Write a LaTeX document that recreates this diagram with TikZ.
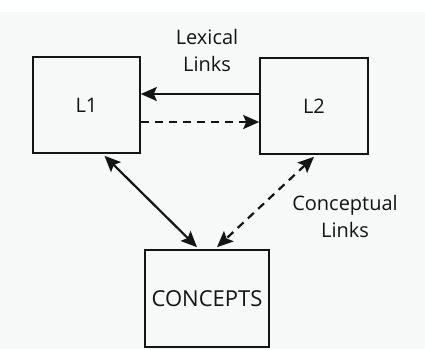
\documentclass[tikz,border=0pt]{standalone}
\usepackage{fontspec}
\setmainfont{Open Sans}
\usetikzlibrary{arrows.meta}
\definecolor{paper}{RGB}{247,248,248}
\definecolor{ink}{RGB}{20,20,20}
\tikzset{
  box/.style={draw=ink, line width=1.6pt, minimum width=#1, inner sep=0pt},
  lbl/.style={font=\fontsize{20}{27}\selectfont, align=center, text=ink},
  big/.style={font=\fontsize{22}{27}\selectfont},
  link/.style={draw=ink, line width=2.2pt, -{Stealth[length=16pt,width=14pt,inset=3pt]}},
  blink/.style={draw=ink, line width=2.2pt, {Stealth[length=16pt,width=14pt,inset=3pt]}-{Stealth[length=16pt,width=14pt,inset=3pt]}},
  dsh/.style={dash pattern=on 8pt off 6pt}
}
\begin{document}
\begin{tikzpicture}[x=1pt,y=-1pt]
  % page
  \fill[paper] (0,0) rectangle (425,349);
  \fill[white] (0,0) rectangle (425,12);
  \useasboundingbox (0,0) rectangle (425,349);

  % the three stores
  \node[box=107pt, minimum height=96pt, lbl] (l1) at (86.5,105) {L1};
  \node[box=108pt, minimum height=96pt, lbl] (l2) at (314,106) {L2};
  \node[box=124pt, minimum height=97pt, lbl, big] (con) at (207,298.5) {CONCEPTS};

  % lexical links
  \draw[link] ([yshift=12pt]l2.west) -- ([yshift=12pt]l2.west -| l1.east);
  \draw[link, dsh] ([yshift=-17pt]l1.east) -- ([yshift=-17pt]l1.east -| l2.west);

  % conceptual links
  \draw[blink] ([xshift=18pt,yshift=-2pt]l1.south) -- ([xshift=-10pt,yshift=2pt]con.north);
  \draw[blink, dsh] ([yshift=-2pt]l2.south) -- ([xshift=10pt,yshift=2pt]con.north);

  % labels
  \node[lbl] (lexlabel) at (207,50) {Lexical\\Links};
  \node[lbl] (conclabel) at (345,216) {Conceptual\\Links};
\end{tikzpicture}
\end{document}
